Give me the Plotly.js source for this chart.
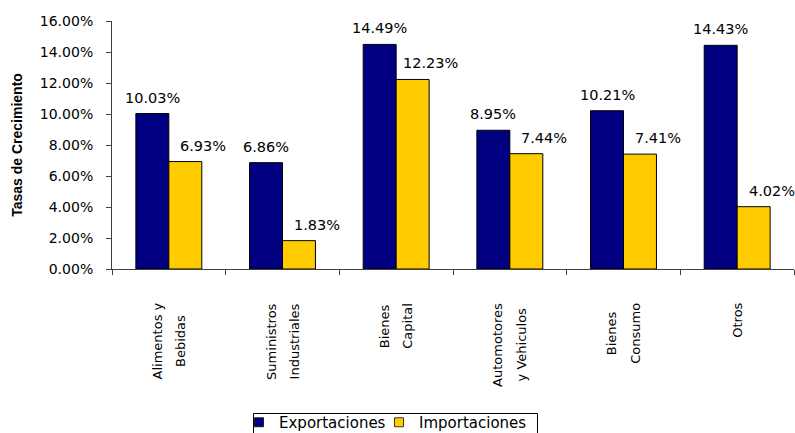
<!DOCTYPE html>
<html><head><meta charset="utf-8">
<script src="https://cdn.plot.ly/plotly-3.0.1.min.js"></script>
<style>html,body{margin:0;padding:0;background:#fff}
.legend .legendpoints path{transform:translate(20px,0px) scale(0.75)}
.legend g{clip-path:none !important}</style>
</head><body><div id="chart" style="width:795px;height:433px"></div>
<svg id="meas" width="0" height="0" style="position:absolute;left:0;top:0"><text id="mt" x="0" y="20"></text></svg>
<script>
const categories = ['Alimentos y\nBebidas', 'Suministros\nIndustriales', 'Bienes\nCapital', 'Automotores\ny Vehiculos', 'Bienes\nConsumo', 'Otros'];
const exportaciones = [10.03, 6.86, 14.49, 8.95, 10.21, 14.43];
const importaciones = [6.93, 1.83, 12.23, 7.44, 7.41, 4.02];
const seriesNames = ['Exportaciones', 'Importaciones'];
const yTickVals = [0, 2, 4, 6, 8, 10, 12, 14, 16];
const yTickText = yTickVals.map(v => v.toFixed(2) + '%');

const catKeys = categories.map(c => c.replace('\n', ' '));
const W = 795, H = 433;
const margin = {l: 112, r: 1, t: 21, b: 164, autoexpand: false};
const bargap = 0.42;
const plotW = W - margin.l - margin.r;
const plotH = H - margin.t - margin.b;
const catW = plotW / categories.length;
const barW = catW * (1 - bargap) / 2;
const px2x = p => (p - margin.l) / plotW;
const px2y = p => (H - margin.b - p) / plotH;

const BLUE = '#000080', YELLOW = '#FFCC00', AX = '#404040';
const textFont = {family: 'DejaVu Sans', size: 14.5, color: '#000'};
const legFont = {family: 'DejaVu Sans', size: 15, color: '#000'};
const catFont = {family: 'DejaVu Sans', size: 13, color: '#000'};

const mt = document.getElementById('mt');
mt.setAttribute('style', "font-family:'DejaVu Sans';font-size:" + catFont.size + "px");
function measure(s) { mt.textContent = s; return mt.getComputedTextLength(); }

const annotations = [];
categories.forEach((c, i) => {
  const lines = c.split('\n');
  const n = lines.length;
  const maxW = Math.max(...lines.map(measure));
  lines.forEach((l, j) => {
    annotations.push({
      x: catKeys[i], y: 0, xref: 'x', yref: 'paper', text: l,
      textangle: -90, showarrow: false, xanchor: 'center', yanchor: 'middle',
      xshift: (j - (n - 1) / 2) * 23.5, yshift: -(34 + maxW / 2), font: catFont
    });
  });
});
document.getElementById('meas').remove();

exportaciones.forEach((v, i) => {
  annotations.push({x: catKeys[i], y: v, xref: 'x', yref: 'y', text: v.toFixed(2) + '%',
    showarrow: false, xanchor: 'center', yanchor: 'bottom', xshift: -barW / 2, yshift: 6, font: textFont});
});
importaciones.forEach((v, i) => {
  annotations.push({x: catKeys[i], y: v, xref: 'x', yref: 'y', text: v.toFixed(2) + '%',
    showarrow: false, xanchor: 'center', yanchor: 'bottom', xshift: barW / 2 + 18, yshift: 6, font: textFont});
});

const data = [
  {type: 'bar', name: seriesNames[0], x: catKeys, y: exportaciones,
   marker: {color: BLUE, line: {color: '#000', width: 1}}, hoverinfo: 'none'},
  {type: 'bar', name: seriesNames[1], x: catKeys, y: importaciones,
   marker: {color: YELLOW, line: {color: '#000', width: 1}}, hoverinfo: 'none'}
];

const layout = {
  width: W, height: H, margin: margin,
  paper_bgcolor: '#fff', plot_bgcolor: '#fff',
  barmode: 'group', bargap: bargap, bargroupgap: 0,
  font: {family: 'DejaVu Sans', color: '#000'},
  xaxis: {type: 'category', range: [-0.5, 5.5], showticklabels: false, ticks: 'outside',
    tickson: 'boundaries', ticklen: 5, tickcolor: AX, showline: true, linecolor: AX,
    linewidth: 1, showgrid: false, zeroline: false, fixedrange: true, automargin: false},
  yaxis: {range: [0, 16], tickmode: 'array', tickvals: yTickVals, ticktext: yTickText,
    ticks: 'outside', ticklen: 5, tickcolor: AX, showline: true, linecolor: AX, linewidth: 1,
    showgrid: false, zeroline: false, ticklabelstandoff: 10, tickfont: {family: 'DejaVu Sans', size: 14, color: '#000'},
    automargin: false, fixedrange: true,
    title: {text: 'Tasas de Crecimiento', standoff: 13,
      font: {family: 'Liberation Sans', size: 14, weight: 700, color: '#000'}}},
  showlegend: true,
  legend: {orientation: 'h', xref: 'container', yref: 'container', x: 239 / W, xanchor: 'left',
    y: 1 - 406 / 433, yanchor: 'top', borderwidth: 0, bgcolor: 'rgba(0,0,0,0)',
    font: legFont, traceorder: 'normal', entrywidth: 95},
  shapes: [{type: 'rect', xref: 'paper', yref: 'paper', x0: px2x(253.5), x1: px2x(537.5),
    y0: px2y(413.5), y1: px2y(445), line: {color: '#000', width: 1}, fillcolor: 'rgba(0,0,0,0)'}],
  annotations: annotations
};

Plotly.newPlot('chart', data, layout, {displayModeBar: false, staticPlot: true});
</script>
</body></html>
